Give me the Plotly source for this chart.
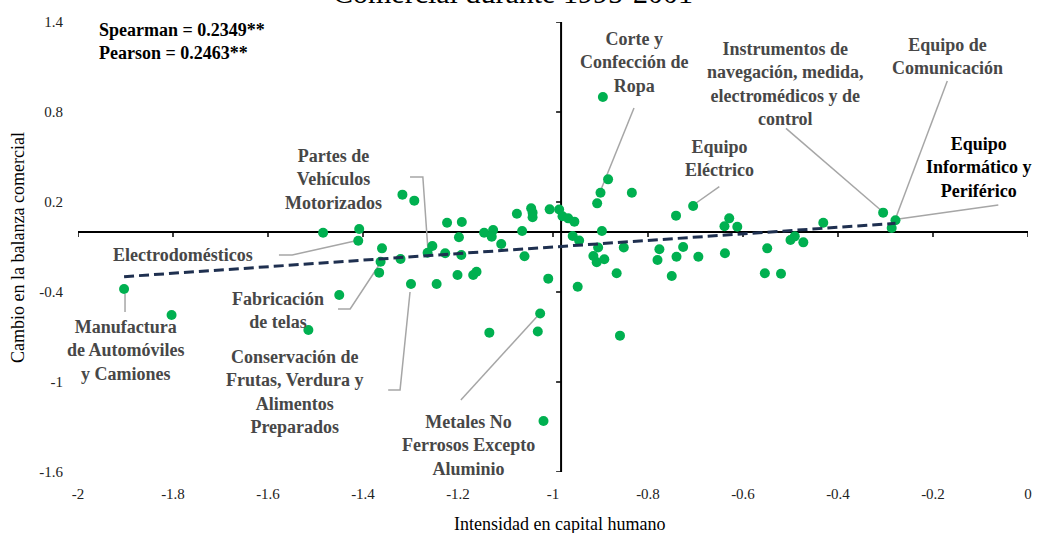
import plotly.graph_objects as go

# ---------------- data ----------------
intensidad = [
    -1.903, -1.803, -1.515, -1.484, -1.450, -1.408, -1.410, -1.360, -1.363, -1.366,
    -1.321, -1.317, -1.292, -1.299, -1.254, -1.264, -1.227, -1.245, -1.223, -1.192,
    -1.198, -1.193, -1.201, -1.168, -1.161, -1.145, -1.126, -1.129, -1.134, -1.109,
    -1.076, -1.065, -1.060, -1.046, -1.043, -1.043, -1.027, -1.032, -1.007, -1.010,
    -1.020, -0.987, -0.980, -0.968, -0.955, -0.9585, -0.945, -0.948, -0.895, -0.884,
    -0.900, -0.907, -0.834, -0.897, -0.905, -0.915, -0.908, -0.892, -0.851, -0.866,
    -0.859, -0.741, -0.705, -0.776, -0.780, -0.726, -0.740, -0.694, -0.750, -0.639,
    -0.629, -0.612, -0.638, -0.549, -0.554, -0.520, -0.500, -0.491, -0.473, -0.431,
    -0.305, -0.279, -0.287,
]
cambio = [
    -0.380, -0.553, -0.653, -0.005, -0.420, 0.020, -0.058, -0.109, -0.198, -0.271,
    -0.180, 0.249, 0.209, -0.347, -0.093, -0.138, -0.142, -0.347, 0.062, 0.067,
    -0.035, -0.153, -0.287, -0.287, -0.265, -0.005, 0.013, -0.031, -0.671, -0.080,
    0.122, 0.007, -0.162, 0.158, 0.129, 0.098, -0.543, -0.663, 0.151, -0.311,
    -1.260, 0.150, 0.105, 0.091, 0.069, -0.027, -0.057, -0.365, 0.900, 0.351,
    0.262, 0.191, 0.262, 0.007, -0.103, -0.160, -0.202, -0.182, -0.103, -0.275,
    -0.691, 0.109, 0.173, -0.115, -0.187, -0.100, -0.165, -0.165, -0.293, 0.038,
    0.091, 0.035, -0.142, -0.109, -0.275, -0.278, -0.053, -0.029, -0.069, 0.062,
    0.129, 0.078, 0.027,
]

trend_x = [-1.903, -0.279]
trend_slope = 0.219
trend_intercept = 0.119

x_ticks = [-2, -1.8, -1.6, -1.4, -1.2, -1, -0.8, -0.6, -0.4, -0.2, 0]
x_tick_labels = ["-2", "-1.8", "-1.6", "-1.4", "-1.2", "-1", "-0.8", "-0.6", "-0.4", "-0.2", "0"]
y_ticks = [-1.6, -1, -0.4, 0.2, 0.8, 1.4]
y_tick_labels = ["-1.6", "-1", "-0.4", "0.2", "0.8", "1.4"]

sector_names = [
    "Corte y<br>Confección de<br>Ropa",
    "Instrumentos de<br>navegación, medida,<br>electromédicos y de<br>control",
    "Equipo de<br>Comunicación",
    "Equipo<br>Informático y<br>Periférico",
    "Equipo<br>Eléctrico",
    "Partes de<br>Vehículos<br>Motorizados",
    "Electrodomésticos",
    "Fabricación<br>de telas",
    "Manufactura<br>de Automóviles<br>y Camiones",
    "Conservación de<br>Frutas, Verdura y<br>Alimentos<br>Preparados",
    "Metales No<br>Ferrosos Excepto<br>Aluminio",
]
stats_text = "Spearman = 0.2349**<br>Pearson = 0.2463**"
title_text = "Comercial durante 1995-2001"
x_title = "Intensidad en capital humano"
y_title = "Cambio en la balanza comercial"

# ---------------- layout helpers (positions / styles) ----------------
X_MIN, X_MAX = -2, 0
Y_MIN, Y_MAX = -1.6, 1.4
Y_AXIS_CROSS = -0.983   # where the vertical axis crosses the horizontal one
X_AXIS_CROSS = 0.0

label_pos = [
    (-0.829, 1.133), (-0.5105, 0.988), (-0.1705, 1.169), (-0.1036, 0.427),
    (-0.6495, 0.491), (-1.4625, 0.349), (-1.779, -0.153), (-1.579, -0.523),
    (-1.899, -0.793), (-1.543, -1.067), (-1.178, -1.420),
]
label_color = ["#474747"] * 3 + ["#000000"] + ["#474747"] * 7
leaders = [
    [(-0.8295, 0.827), (-0.901, 0.267)],
    [(-0.5095, 0.691), (-0.306, 0.135)],
    [(-0.1699, 1.007), (-0.280, 0.080)],
    [(-0.0625, 0.180), (-0.2764, 0.085)],
    [(-0.6499, 0.302), (-0.7046, 0.180)],
    [(-1.301, 0.367), (-1.274, 0.367), (-1.263, -0.133)],
    [(-1.577, -0.153), (-1.549, -0.153), (-1.417, -0.060)],
    [(-1.4526, -0.513), (-1.427, -0.513), (-1.362, -0.200)],
    [(-1.901, -0.413), (-1.901, -0.533)],
    [(-1.347, -1.053), (-1.322, -1.053), (-1.301, -0.400)],
    [(-1.194, -1.120), (-1.034, -0.565)],
]

FONT = "Liberation Serif, Times New Roman, serif"

fig = go.Figure()

# leader lines
for pts in leaders:
    fig.add_trace(go.Scatter(
        x=[p[0] for p in pts], y=[p[1] for p in pts], mode="lines",
        line=dict(color="#A6A6A6", width=1.5), hoverinfo="skip", showlegend=False))

# data points
fig.add_trace(go.Scatter(
    x=intensidad, y=cambio, mode="markers",
    marker=dict(color="#00B050", size=10, line=dict(width=0)),
    showlegend=False))

# trend line
fig.add_trace(go.Scatter(
    x=trend_x, y=[trend_slope * v + trend_intercept for v in trend_x], mode="lines",
    line=dict(color="#1F3050", width=3, dash="10px,5px"), showlegend=False))

# axis lines crossing inside the plot
shapes = [
    dict(type="line", xref="x", yref="y", x0=Y_AXIS_CROSS, x1=Y_AXIS_CROSS, y0=Y_MIN, y1=Y_MAX,
         line=dict(color="black", width=2), layer="below"),
    dict(type="line", xref="x", yref="y", x0=X_MIN, x1=X_MAX, y0=X_AXIS_CROSS, y1=X_AXIS_CROSS,
         line=dict(color="black", width=2), layer="below"),
]
for v in x_ticks:
    shapes.append(dict(type="line", xref="x", yref="y", ysizemode="pixel", yanchor=X_AXIS_CROSS,
                       x0=v, x1=v, y0=-5, y1=0, line=dict(color="black", width=1.5), layer="below"))
for v in y_ticks:
    shapes.append(dict(type="line", xref="x", yref="y", xsizemode="pixel", xanchor=Y_AXIS_CROSS,
                       x0=-5, x1=0, y0=v, y1=v, line=dict(color="black", width=1.5), layer="below"))

annotations = []
for name, (lx, ly), col in zip(sector_names, label_pos, label_color):
    annotations.append(dict(x=lx, y=ly, xref="x", yref="y", text=f"<b>{name}</b>", showarrow=False,
                            align="center", xanchor="center", yanchor="middle",
                            font=dict(family=FONT, size=18, color=col)))
annotations.append(dict(x=0.02, y=0.956, xref="paper", yref="paper", text=f"<b>{stats_text}</b>",
                        showarrow=False, align="left", xanchor="left", yanchor="middle",
                        font=dict(family=FONT, size=18, color="black")))
annotations.append(dict(x=0.458, y=1.065, xref="paper", yref="paper", text=title_text,
                        showarrow=False, xanchor="center", yanchor="middle",
                        font=dict(family=FONT, size=30, color="black")))
annotations.append(dict(x=0.507, y=-0.1156, xref="paper", yref="paper", text=x_title,
                        showarrow=False, xanchor="center", yanchor="middle",
                        font=dict(family=FONT, size=18, color="black")))
annotations.append(dict(x=-0.0632, y=0.5, xref="paper", yref="paper", text=y_title, textangle=-90,
                        showarrow=False, xanchor="center", yanchor="middle",
                        font=dict(family=FONT, size=18, color="black")))

fig.update_layout(
    template="none",
    width=1040, height=533,
    margin=dict(l=78, r=12, t=22, b=61, autoexpand=False),
    plot_bgcolor="white", paper_bgcolor="white",
    showlegend=False,
    shapes=shapes, annotations=annotations,
    xaxis=dict(range=[X_MIN, X_MAX], tickvals=x_ticks, ticktext=x_tick_labels,
               showgrid=False, zeroline=False, showline=False, automargin=False,
               ticks="outside", ticklen=8, tickcolor="rgba(0,0,0,0)",
               tickfont=dict(family=FONT, size=15, color="#222222")),
    yaxis=dict(range=[Y_MIN, Y_MAX], tickvals=y_ticks, ticktext=y_tick_labels,
               showgrid=False, zeroline=False, showline=False, automargin=False,
               ticks="outside", ticklen=11, tickcolor="rgba(0,0,0,0)",
               tickfont=dict(family=FONT, size=15, color="#222222")),
)

# remove the browser's default page margin so the figure fills the window exactly
fig.write_html("out.html", config={"displayModeBar": False},
               post_script="document.body.style.margin='0';")
